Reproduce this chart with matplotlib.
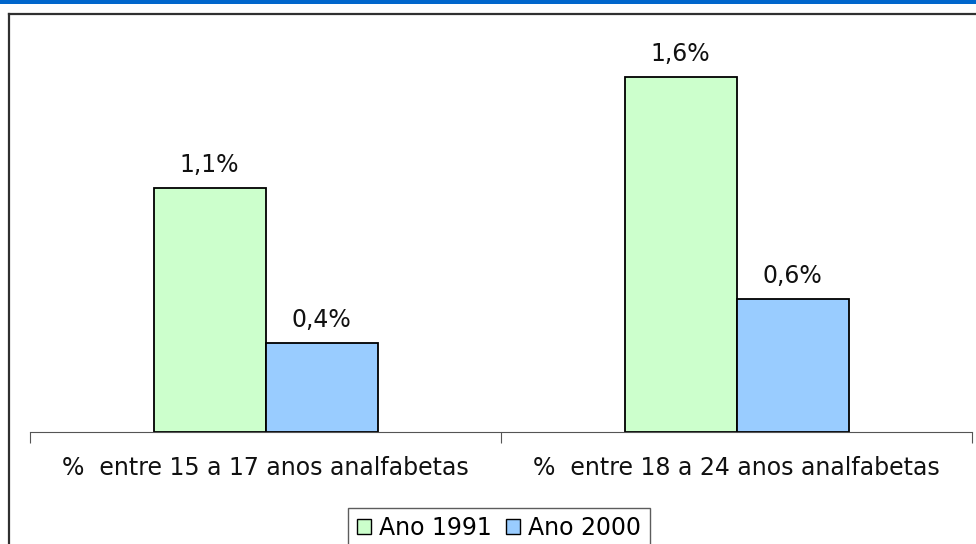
import matplotlib.pyplot as plt
from matplotlib.lines import Line2D
from matplotlib.patches import Rectangle, Patch
import numpy as np

categories = ['%  entre 15 a 17 anos analfabetas', '%  entre 18 a 24 anos analfabetas']
series = ['Ano 1991', 'Ano 2000']
values_1991 = [1.1, 1.6]
values_2000 = [0.4, 0.6]
colors = ['#CCFFCC', '#99CCFF']

W, H = 976, 544
fig = plt.figure(figsize=(W / 100, H / 100), dpi=100)
fig.patch.set_facecolor('white')

# blue band on top and the chart frame
fig.patches.append(Rectangle((0, (H - 4) / H), 1, 4 / H, transform=fig.transFigure,
                             facecolor='#0066CC', edgecolor='none'))
fig.add_artist(Line2D([8.5 / W, 976 / W], [1 - 14 / H, 1 - 14 / H], color='#303030', lw=1.6))
fig.add_artist(Line2D([9 / W, 9 / W], [0, 1 - 14 / H], color='#303030', lw=1.6))

# axes: baseline at y=432, x from 30 to 972
ax_left, ax_right = 30 / W, 972 / W
ax_bottom = 1 - 432 / H
ax_h = 1.8 * 222 / H
ax = fig.add_axes([ax_left, ax_bottom, ax_right - ax_left, ax_h])
ax.set_xlim(0, 2)
ax.set_ylim(0, 1.8)

x = np.arange(len(categories)) + 0.5
bw = 112 / 471
b1 = ax.bar(x - bw / 2, values_1991, bw, color=colors[0], edgecolor='black', lw=1.3, label=series[0])
b2 = ax.bar(x + bw / 2, values_2000, bw, color=colors[1], edgecolor='black', lw=1.3, label=series[1])

fs = 17
for bars in (b1, b2):
    for r in bars:
        ax.text(r.get_x() + r.get_width() / 2, r.get_height() + 0.05,
                f'{r.get_height():.1f}%'.replace('.', ','),
                ha='center', va='bottom', fontsize=fs, color='#111111')

for s in ['top', 'right', 'left']:
    ax.spines[s].set_visible(False)
ax.spines['bottom'].set_color('#555555')
ax.set_yticks([])
ax.set_xticks([0, 1, 2])
ax.set_xticklabels([])
ax.tick_params(axis='x', length=8, color='#555555', direction='out')
for xi, c in zip(x, categories):
    ax.text(xi, -0.16, c, ha='center', va='center', fontsize=fs, color='#111111')

handles = [Patch(facecolor=colors[0], edgecolor='black'), Patch(facecolor=colors[1], edgecolor='black')]
leg = fig.legend(handles, series, loc='upper center', bbox_to_anchor=(499 / W, 1 - 508 / H),
                 ncol=2, fontsize=fs, frameon=True, fancybox=False, handlelength=0.6,
                 handleheight=0.6, handletextpad=0.35, columnspacing=0.6, borderpad=0.35,
                 borderaxespad=0)
leg.get_frame().set_edgecolor('#333333')
leg.get_frame().set_linewidth(1.0)

fig.savefig('out.png', dpi=100)
